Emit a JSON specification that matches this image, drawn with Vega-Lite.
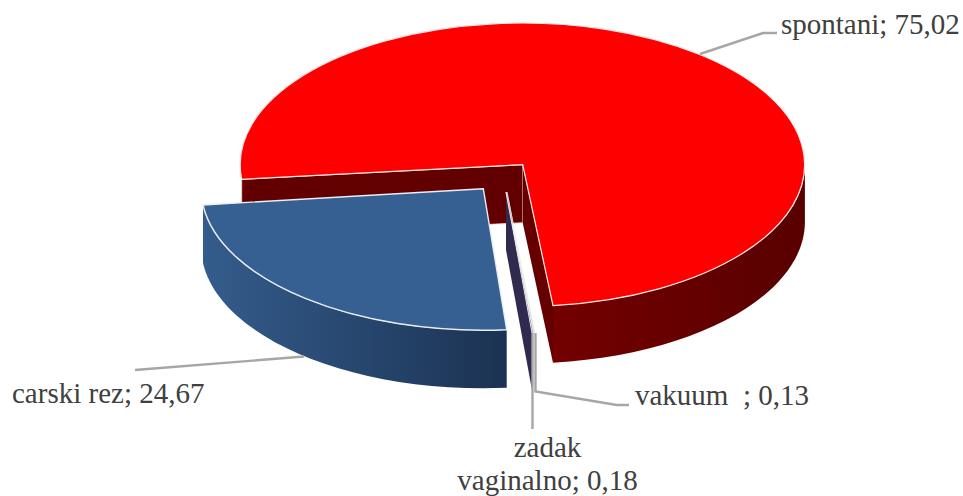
{
"$schema":"https://vega.github.io/schema/vega-lite/v6.json",
"width":963,"height":496,
"autosize":{"type":"fit","contains":"padding"},
"padding":0,
"background":"#ffffff",
"view":{"stroke":null},
"data":{"values":[
{"metoda":"spontani","udio":75.02,"oznaka":"spontani; 75,02"},
{"metoda":"carski rez","udio":24.67,"oznaka":"carski rez; 24,67"},
{"metoda":"vakuum","udio":0.13,"oznaka":"vakuum\u00a0 ; 0,13"},
{"metoda":"zadak vaginalno","udio":0.18,"oznaka":"zadak\nvaginalno; 0,18"}
]},
"encoding":{"detail":{"field":"metoda","type":"nominal"},"tooltip":[{"field":"metoda","type":"nominal"},{"field":"udio","type":"quantitative"}]},
"layer":[
{"transform":[{"filter":{"field":"metoda","equal":"spontani"}}],"mark":{"type":"point","size":4,"filled":true,"opacity":1,"fill":"#620000","stroke":"#f4d8d8","strokeWidth":0.8,"shape":"M41.2,-83.3 L-239.8,-68.7 L-239.8,-11 L41.2,-25.3 Z"}},
{"transform":[{"filter":{"field":"metoda","equal":"spontani"}}],"mark":{"type":"point","size":4,"filled":true,"opacity":1,"fill":"#660000","shape":"M41.2,-83.3 L71.5,57.6 L71.5,114.7 L41.2,-25.3 Z"}},
{"transform":[{"filter":{"field":"metoda","equal":"spontani"}}],"mark":{"type":"point","size":4,"filled":true,"opacity":1,"fill":{"gradient":"linear","x1":0,"y1":0,"x2":1,"y2":0,"stops":[{"offset":0,"color":"#730000"},{"offset":1,"color":"#590000"}]},"shape":"M323.4,-83.3 A282.2,141.7 0 0 1 71.5,57.6 L71.5,114.7 A282.2,141.7 0 0 0 323.4,-25.3 Z"}},
{"transform":[{"filter":{"field":"metoda","equal":"spontani"}}],"mark":{"type":"point","size":4,"filled":true,"opacity":1,"fill":"#ff0000","stroke":"#ffe8e8","strokeWidth":1.2,"shape":"M41.2,-83.3 L-239.8,-68.7 A282.2,141.7 0 1 1 71.5,57.6 Z"}},
{"transform":[{"filter":{"field":"metoda","equal":"carski rez"}}],"mark":{"type":"point","size":4,"filled":true,"opacity":1,"fill":{"gradient":"linear","x1":0,"y1":0,"x2":1,"y2":0,"stops":[{"offset":0,"color":"#345c8c"},{"offset":1,"color":"#1b3252"}]},"shape":"M-278.5,-43 A282.2,141.7 0 0 0 25.2,81.7 L25.2,139.7 A282.2,141.7 0 0 1 -278.5,15 Z"}},
{"transform":[{"filter":{"field":"metoda","equal":"carski rez"}}],"mark":{"type":"point","size":4,"filled":true,"opacity":1,"fill":"#376092","stroke":"#e8eef5","strokeWidth":1.4,"shape":"M1.8,-59.3 L-278.5,-43 A282.2,141.7 0 0 0 25.2,81.7 Z"}},
{"transform":[{"filter":{"field":"metoda","equal":"zadak vaginalno"}}],"mark":{"type":"point","size":4,"filled":true,"opacity":1,"fill":"#2f2a4e","shape":"M24.5,-56 L50.5,85 L50.5,142 L24.5,2 Z"}},
{"transform":[{"filter":{"field":"metoda","equal":"zadak vaginalno"}}],"mark":{"type":"point","size":4,"filled":true,"opacity":1,"fill":"#8a7fbc","stroke":"#f2f0f8","strokeWidth":0.8,"shape":"M24.5,-56 L50.5,85 L52,85 Z"}},
{"transform":[{"filter":{"field":"metoda","equal":"vakuum"}}],"mark":{"type":"point","size":4,"filled":true,"opacity":1,"fill":"#b5c98a","stroke":"#f6f8ee","strokeWidth":0.6,"shape":"M25.5,-56 L52.5,85 L53.5,85 Z"}},
{"transform":[{"filter":{"field":"metoda","equal":"spontani"}}],"mark":{"type":"point","size":4,"filled":false,"opacity":1,"stroke":"#a6a6a6","strokeWidth":2.4,"shape":"M218.5,-194 L281.5,-215 L295.5,-215"}},
{"transform":[{"filter":{"field":"metoda","equal":"carski rez"}}],"mark":{"type":"point","size":4,"filled":false,"opacity":1,"stroke":"#a6a6a6","strokeWidth":2.4,"shape":"M-177.5,108.5 L-346.5,122"}},
{"transform":[{"filter":{"field":"metoda","equal":"zadak vaginalno"}}],"mark":{"type":"point","size":4,"filled":false,"opacity":1,"stroke":"#a6a6a6","strokeWidth":2.4,"shape":"M51,85 L51,181"}},
{"transform":[{"filter":{"field":"metoda","equal":"vakuum"}}],"mark":{"type":"point","size":4,"filled":false,"opacity":1,"stroke":"#a6a6a6","strokeWidth":2.4,"shape":"M54,85 L54,143.5 L135.2,157 L147.5,157"}},
{"transform":[{"filter":{"field":"metoda","equal":"spontani"}}],"mark":{"type":"text","font":"Liberation Serif","fontSize":29,"color":"#404040","align":"left","baseline":"alphabetic","dx":299.5,"dy":-214},"encoding":{"text":{"field":"oznaka","type":"nominal"}}},
{"transform":[{"filter":{"field":"metoda","equal":"carski rez"}}],"mark":{"type":"text","font":"Liberation Serif","fontSize":29,"color":"#404040","align":"left","baseline":"alphabetic","dx":-469.5,"dy":155},"encoding":{"text":{"field":"oznaka","type":"nominal"}}},
{"transform":[{"filter":{"field":"metoda","equal":"vakuum"}}],"mark":{"type":"text","font":"Liberation Serif","fontSize":29,"color":"#404040","align":"left","baseline":"alphabetic","dx":153.5,"dy":157},"encoding":{"text":{"field":"oznaka","type":"nominal"}}},
{"transform":[{"filter":{"field":"metoda","equal":"zadak vaginalno"}}],"mark":{"type":"text","font":"Liberation Serif","fontSize":29,"color":"#404040","align":"center","baseline":"alphabetic","lineBreak":"\n","lineHeight":33,"dx":66,"dy":209},"encoding":{"text":{"field":"oznaka","type":"nominal"}}}
]
}
